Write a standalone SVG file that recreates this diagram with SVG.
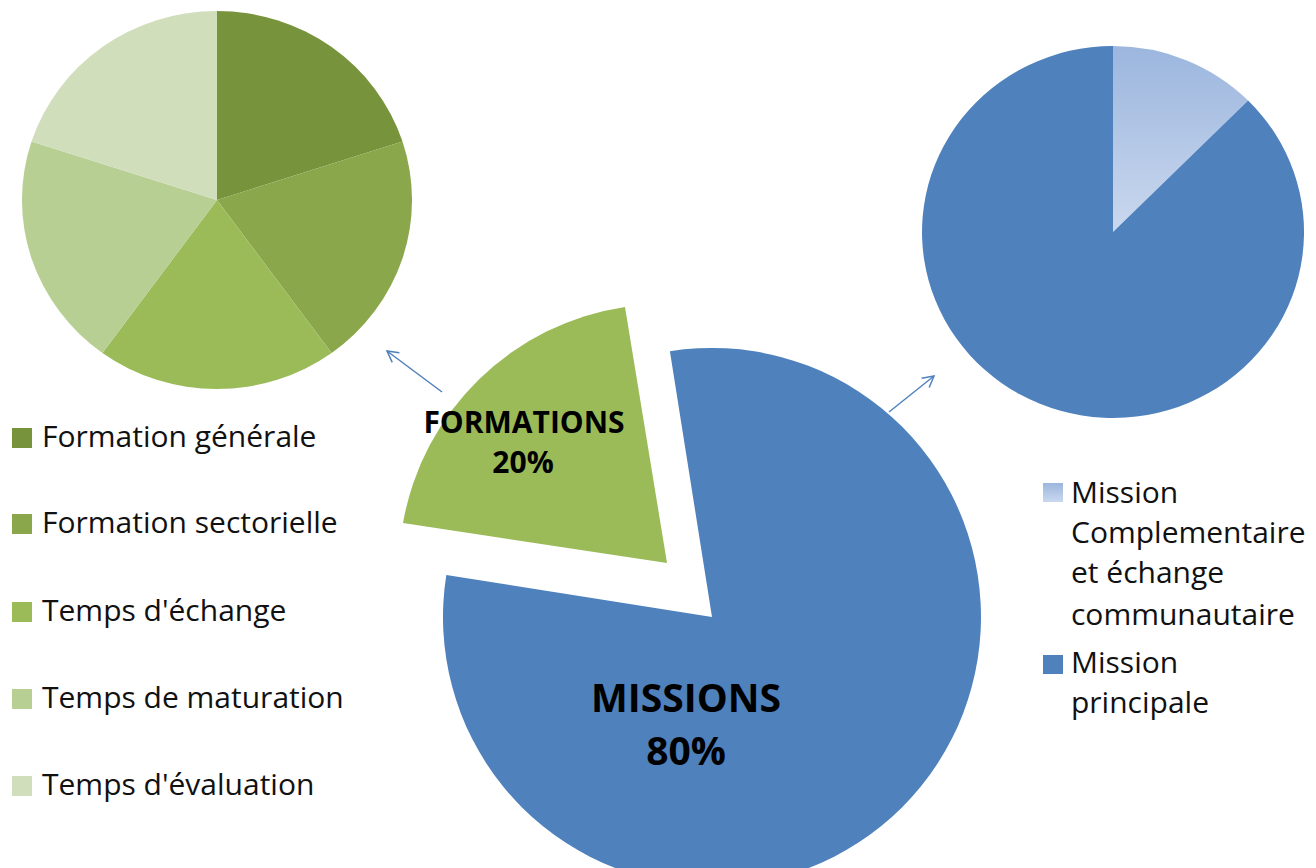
<svg xmlns="http://www.w3.org/2000/svg" width="1316" height="868" viewBox="0 0 1316 868">
  <defs>
    <style>
      .lbl{font-family:"Open Sans","Liberation Sans",sans-serif;font-size:30px;fill:#111}
      .big{font-family:"Open Sans","Liberation Sans",sans-serif;font-weight:bold;fill:#000;text-anchor:middle}
      .conn{stroke:#4F81BD;stroke-width:1.5;fill:none}
    </style>
    <linearGradient id="lightBlue" x1="0" y1="46" x2="0" y2="232" gradientUnits="userSpaceOnUse">
      <stop offset="0" stop-color="#9CB6DE"/>
      <stop offset="1" stop-color="#CAD8EE"/>
    </linearGradient>
    <linearGradient id="lightBlueSq" x1="0" y1="0" x2="0" y2="1">
      <stop offset="0" stop-color="#9CB6DE"/>
      <stop offset="1" stop-color="#CAD8EE"/>
    </linearGradient>
    <marker id="arr" markerWidth="14" markerHeight="14" refX="12" refY="7" orient="auto" markerUnits="userSpaceOnUse">
      <path d="M1,1 L12,7 L1,13" fill="none" stroke="#4F81BD" stroke-width="1.5"/>
    </marker>
  </defs>
  <rect width="1316" height="868" fill="#fff"/>

  <g id="formations-pie">
    <path d="M217,200 L217,11 A195,189 0 0 1 402.5,141.6 Z" fill="#77933C"/>
    <path d="M217,200 L402.5,141.6 A195,189 0 0 1 331.6,352.9 Z" fill="#8AA74B"/>
    <path d="M217,200 L331.6,352.9 A195,189 0 0 1 102.4,352.9 Z" fill="#9BBB59"/>
    <path d="M217,200 L102.4,352.9 A195,189 0 0 1 31.5,141.6 Z" fill="#B8CF94"/>
    <path d="M217,200 L31.5,141.6 A195,189 0 0 1 217,11 Z" fill="#D0DEBC"/>
  </g>

  <g id="formations-legend">
    <rect x="12" y="428" width="20" height="20" fill="#77933C"/>
    <text class="lbl" x="42" y="447">Formation générale</text>
    <rect x="12" y="514" width="20" height="20" fill="#8AA74B"/>
    <text class="lbl" x="42" y="533">Formation sectorielle</text>
    <rect x="12" y="602" width="20" height="20" fill="#9BBB59"/>
    <text class="lbl" x="42" y="621">Temps d'échange</text>
    <rect x="12" y="689" width="20" height="20" fill="#B8CF94"/>
    <text class="lbl" x="42" y="708">Temps de maturation</text>
    <rect x="12" y="776" width="20" height="20" fill="#D0DEBC"/>
    <text class="lbl" x="42" y="795">Temps d'évaluation</text>
  </g>

  <g id="missions-pie">
    <path d="M1113,232 L1113,46 A191,186 0 0 1 1248.1,100.5 Z" fill="url(#lightBlue)"/>
    <path d="M1113,232 L1248.1,100.5 A191,186 0 1 1 1113,46 Z" fill="#4F81BD"/>
  </g>

  <g id="missions-legend">
    <rect x="1043" y="483" width="20" height="19" fill="url(#lightBlueSq)"/>
    <text class="lbl" x="1071" y="503">Mission</text>
    <text class="lbl" x="1071" y="543">Complementaire</text>
    <text class="lbl" x="1071" y="583">et échange</text>
    <text class="lbl" x="1071" y="625">communautaire</text>
    <rect x="1043" y="655" width="20" height="19" fill="#4F81BD"/>
    <text class="lbl" x="1071" y="673">Mission</text>
    <text class="lbl" x="1071" y="713">principale</text>
  </g>

  <g id="main-missions">
    <path d="M712,617 L669.9,351.3 A269,269 0 1 1 446.3,574.9 Z" fill="#4F81BD"/>
    <text class="big" x="686" y="712" font-size="39">MISSIONS</text>
    <text class="big" x="686" y="765" font-size="39">80%</text>
  </g>

  <g id="main-formations">
    <path d="M667,563 L403,523 A265,265 0 0 1 625,307 Z" fill="#9BBB59"/>
    <text class="big" x="524" y="433" font-size="30">FORMATIONS</text>
    <text class="big" x="523" y="473" font-size="30">20%</text>
  </g>

  <g id="connectors">
    <line class="conn" x1="442" y1="392" x2="387" y2="351" marker-end="url(#arr)"/>
    <line class="conn" x1="889" y1="412" x2="934" y2="376" marker-end="url(#arr)"/>
  </g>
</svg>
